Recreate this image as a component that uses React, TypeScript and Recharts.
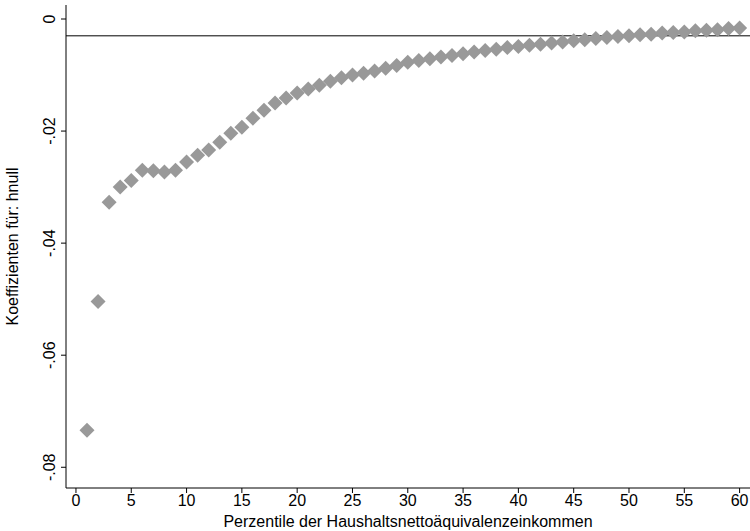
import React from 'react';
import { ScatterChart, Scatter, XAxis, YAxis, ReferenceLine, Label } from 'recharts';

const percentiles = [
  1, 2, 3, 4, 5, 6, 7, 8, 9, 10, 11, 12, 13, 14, 15, 16, 17, 18, 19, 20,
  21, 22, 23, 24, 25, 26, 27, 28, 29, 30, 31, 32, 33, 34, 35, 36, 37, 38, 39, 40,
  41, 42, 43, 44, 45, 46, 47, 48, 49, 50, 51, 52, 53, 54, 55, 56, 57, 58, 59, 60,
];
const coefficients = [
  -0.0734, -0.0504, -0.0327, -0.03, -0.0288, -0.027, -0.0271, -0.0273, -0.027, -0.0255,
  -0.0243, -0.0234, -0.022, -0.0204, -0.0193, -0.0177, -0.0163, -0.015, -0.0141, -0.0132,
  -0.0125, -0.0118, -0.0111, -0.0105, -0.01, -0.0097, -0.0093, -0.0088, -0.0083, -0.0077,
  -0.0074, -0.0071, -0.0068, -0.0065, -0.0062, -0.0059, -0.0056, -0.0054, -0.0051, -0.0049,
  -0.0047, -0.0045, -0.0043, -0.0041, -0.0039, -0.0037, -0.0035, -0.0033, -0.0031, -0.003,
  -0.0028, -0.0027, -0.0025, -0.0024, -0.0023, -0.0021, -0.002, -0.0019, -0.0017, -0.0016,
];
const xTicks = [0, 5, 10, 15, 20, 25, 30, 35, 40, 45, 50, 55, 60];
const yTicks = [0, -0.02, -0.04, -0.06, -0.08];
const yTickLabels = ['0', '-.02', '-.04', '-.06', '-.08'];
const baseline = -0.003;

const data = percentiles.map((p, i) => ({ p, c: coefficients[i] }));

const Diamond = (props: any) => {
  const { cx, cy } = props;
  const r = 7.5;
  return <polygon points={`${cx},${cy - r} ${cx + r},${cy} ${cx},${cy + r} ${cx - r},${cy}`} fill="#999999" />;
};

const YTick = (props: any) => {
  const { x, y, payload } = props;
  return (
    <text x={x - 4} y={y} transform={`rotate(-90 ${x - 4} ${y})`} textAnchor="middle" fontSize={16} fill="#000">
      {yTickLabels[yTicks.indexOf(payload.value)]}
    </text>
  );
};

export default function App() {
  return (
    <div style={{ position: 'fixed', left: 0, top: 0, width: 750, height: 531, background: '#fff', fontFamily: 'Liberation Sans, Arial, sans-serif' }}>
      <ScatterChart width={750} height={531} margin={{ top: 5, right: 0, bottom: 0, left: 8 }}>
        <XAxis
          type="number"
          dataKey="p"
          domain={[-0.9, 60.94]}
          ticks={xTicks}
          allowDataOverflow
          stroke="#000"
          tickSize={5}
          tick={{ fontSize: 16, fill: '#000' }}
          height={43}
        >
          <Label value="Perzentile der Haushaltsnettoäquivalenzeinkommen" position="insideBottom" offset={4} fontSize={16} fill="#000" />
        </XAxis>
        <YAxis
          type="number"
          dataKey="c"
          domain={[-0.0837, 0.0025]}
          ticks={yTicks}
          allowDataOverflow
          stroke="#000"
          tickSize={5}
          width={58}
          tick={<YTick />}
        >
          <Label value="Koeffizienten für: hnull" angle={-90} position="insideLeft" offset={4} fontSize={16} fill="#000" style={{ textAnchor: 'middle' }} />
        </YAxis>
        <ReferenceLine y={baseline} stroke="#000" strokeWidth={1} />
        <Scatter data={data} shape={<Diamond />} isAnimationActive={false} />
      </ScatterChart>
    </div>
  );
}
